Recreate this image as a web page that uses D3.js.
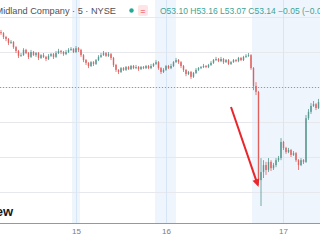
<!DOCTYPE html>
<html>
<head>
<meta charset="utf-8">
<script src="https://cdn.jsdelivr.net/npm/d3@7"></script>
<style>
  body { margin: 0; background: #fff; overflow: hidden; }
  svg { display: block; }
</style>
</head>
<body>
<div id="chart"></div>
<script>
// 5 minute bars, open = previous close
var firstOpen = 55.57;
var closes = [
  55.54, 55.43, 55.37, 55.26, 55.29, 55.14, 55.03, 54.89, 54.91, 55.06,
  54.97, 54.86, 55.00, 54.91, 54.97, 54.83, 54.91, 54.86, 54.80, 54.89,
  54.94, 54.86, 54.97, 55.03, 55.00, 54.94, 55.00, 55.06, 55.09, 55.00,
  55.11, 55.06, 54.91, 54.77, 54.69, 54.60, 54.71, 54.66, 54.77, 54.86,
  54.91, 54.97, 54.89, 54.94, 54.83, 54.63, 54.49, 54.43, 54.54, 54.49,
  54.57, 54.51, 54.60, 54.54, 54.57, 54.51, 54.57, 54.54, 54.60, 54.54,
  54.60, 54.66, 54.71, 54.54, 54.43, 54.49, 54.60, 54.54, 54.60, 54.71,
  54.77, 54.71, 54.60, 54.49, 54.37, 54.43, 54.29, 54.40, 54.49, 54.54,
  54.57, 54.60, 54.57, 54.63, 54.69, 54.77, 54.80, 54.74, 54.80, 54.71,
  54.77, 54.66, 54.71, 54.77, 54.74, 54.83, 54.77, 54.86, 54.89, 54.91,
  54.54, 54.03, 53.86, 51.34, 51.57, 51.77, 51.63, 51.86, 51.68, 51.77,
  51.91, 51.97, 52.43, 52.26, 52.14, 52.20, 52.06, 52.11, 51.91, 51.77,
  51.91, 51.86, 53.11, 53.29, 53.46, 53.51, 53.40, 53.57
];
var highs = [
  55.63, 55.57, 55.46, 55.40, 55.34, 55.31, 55.17, 55.06, 54.97, 55.11,
  55.09, 55.00, 55.06, 55.03, 55.00, 55.00, 54.94, 54.97, 54.89, 54.94,
  54.97, 54.97, 55.03, 55.09, 55.06, 55.03, 55.06, 55.11, 55.14, 55.11,
  55.17, 55.14, 55.09, 54.94, 54.80, 54.71, 54.74, 54.74, 54.80, 54.91,
  54.97, 55.03, 55.00, 55.00, 54.97, 54.86, 54.66, 54.51, 54.57, 54.57,
  54.60, 54.60, 54.63, 54.63, 54.63, 54.60, 54.60, 54.60, 54.63, 54.63,
  54.66, 54.69, 54.77, 54.74, 54.57, 54.54, 54.63, 54.63, 54.66, 54.74,
  54.83, 54.80, 54.74, 54.63, 54.51, 54.46, 54.46, 54.43, 54.54, 54.57,
  54.60, 54.66, 54.63, 54.66, 54.74, 54.80, 54.86, 54.83, 54.86, 54.83,
  54.80, 54.80, 54.74, 54.80, 54.80, 54.86, 54.86, 54.89, 54.94, 54.97,
  54.94, 54.57, 54.14, 53.89, 51.97, 51.91, 51.86, 51.97, 51.91, 51.83,
  51.97, 52.03, 52.54, 52.46, 52.29, 52.26, 52.23, 52.17, 52.14, 51.94,
  51.97, 51.94, 53.20, 53.37, 53.54, 53.60, 53.54, 53.66
];
var lows = [
  55.49, 55.37, 55.31, 55.20, 55.23, 55.09, 54.97, 54.83, 54.86, 54.89,
  54.94, 54.80, 54.83, 54.89, 54.86, 54.77, 54.80, 54.83, 54.74, 54.77,
  54.86, 54.80, 54.83, 54.94, 54.94, 54.89, 54.91, 54.97, 55.03, 54.97,
  54.97, 55.00, 54.86, 54.71, 54.63, 54.54, 54.57, 54.60, 54.63, 54.74,
  54.83, 54.89, 54.86, 54.86, 54.77, 54.57, 54.43, 54.37, 54.40, 54.46,
  54.46, 54.49, 54.49, 54.51, 54.51, 54.46, 54.49, 54.51, 54.51, 54.51,
  54.51, 54.57, 54.63, 54.49, 54.37, 54.40, 54.46, 54.51, 54.51, 54.57,
  54.69, 54.66, 54.54, 54.43, 54.31, 54.34, 54.23, 54.26, 54.37, 54.46,
  54.51, 54.54, 54.54, 54.54, 54.60, 54.66, 54.74, 54.71, 54.71, 54.66,
  54.69, 54.63, 54.63, 54.69, 54.71, 54.71, 54.74, 54.74, 54.83, 54.86,
  54.49, 53.91, 53.77, 51.20, 50.60, 51.40, 51.49, 51.57, 51.60, 51.63,
  51.71, 51.86, 51.91, 52.20, 52.09, 52.11, 52.00, 52.03, 51.86, 51.63,
  51.74, 51.80, 51.83, 53.06, 53.23, 53.43, 53.34, 53.37
];

// extended hours shading, in bar positions
var extStart = [28.4, 61.6, 100.4];
var extEnd = [31.6, 70.0, 130];
var dayIdx = [30, 66, 112.8];
var dayLabels = ["15", "16", "17"];
var prevClose = 54.00;

var title = "Archer-Daniels-Midland Company \u00b7 5 \u00b7 NYSE";
var ohlcText = "O53.10 H53.16 L53.07 C53.14 \u22120.05 (\u22120.09%)";

// arrow pointing at the drop
var arrowFrom = {i: 92, p: 53.43};
var arrowTo = {i: 103, p: 51.14};

var width = 320, height = 240, plotBottom = 223;

var bars = closes.map(function(c, i) {
  return {i: i, o: i === 0 ? firstOpen : closes[i - 1], h: highs[i], l: lows[i], c: c};
});

var xScale = d3.scaleLinear().domain([0, 127]).range([1, 318.5]);
var yScale = d3.scaleLinear().domain([50.143, 56.486]).range([222, 0]);

var svg = d3.select("#chart").append("svg")
    .attr("width", width)
    .attr("height", height)
    .style("font-family", "'Liberation Sans', Arial, sans-serif");

svg.append("rect")
    .attr("width", width)
    .attr("height", height)
    .attr("fill", "#ffffff");

// extended session bands
svg.selectAll(".band")
    .data(extStart)
  .enter().append("rect")
    .attr("class", "band")
    .attr("x", function(d) { return xScale(d); })
    .attr("width", function(d, i) { return xScale(extEnd[i]) - xScale(d); })
    .attr("y", 0)
    .attr("height", plotBottom)
    .attr("fill", "#eef5fd");

// horizontal grid
svg.selectAll(".hgrid")
    .data(yScale.ticks(6))
  .enter().append("line")
    .attr("class", "hgrid")
    .attr("x1", 0).attr("x2", width)
    .attr("y1", function(d) { return Math.round(yScale(d)) + 0.5; })
    .attr("y2", function(d) { return Math.round(yScale(d)) + 0.5; })
    .attr("stroke", "#e6e8ee")
    .attr("stroke-width", 1);

// day lines
svg.selectAll(".vgrid")
    .data(dayIdx)
  .enter().append("line")
    .attr("class", "vgrid")
    .attr("x1", function(d) { return Math.round(xScale(d)) + 0.5; })
    .attr("x2", function(d) { return Math.round(xScale(d)) + 0.5; })
    .attr("y1", 0).attr("y2", plotBottom)
    .attr("stroke", "#d6e6f7")
    .attr("stroke-width", 1);

// previous close dotted line
svg.append("line")
    .attr("x1", 0).attr("x2", width)
    .attr("y1", Math.round(yScale(prevClose)) + 0.5)
    .attr("y2", Math.round(yScale(prevClose)) + 0.5)
    .attr("stroke", "#9598a1")
    .attr("stroke-width", 1)
    .attr("stroke-dasharray", "1,2");

var upCol = "#56988f", downCol = "#e0605e";

var candle = svg.selectAll(".bar")
    .data(bars)
  .enter().append("g")
    .attr("class", "bar");

candle.append("line")
    .attr("x1", function(d) { return xScale(d.i); })
    .attr("x2", function(d) { return xScale(d.i); })
    .attr("y1", function(d) { return yScale(d.h); })
    .attr("y2", function(d) { return yScale(d.l); })
    .attr("stroke", function(d) { return d.c >= d.o ? upCol : downCol; })
    .attr("stroke-width", 0.8);

candle.append("rect")
    .attr("x", function(d) { return xScale(d.i) - 0.7; })
    .attr("width", 1.4)
    .attr("y", function(d) { return yScale(Math.max(d.o, d.c)); })
    .attr("height", function(d) { return Math.max(0.8, Math.abs(yScale(d.o) - yScale(d.c))); })
    .attr("fill", function(d) { return d.c >= d.o ? upCol : downCol; });

// arrow
var ax1 = xScale(arrowFrom.i), ay1 = yScale(arrowFrom.p),
    ax2 = xScale(arrowTo.i), ay2 = yScale(arrowTo.p);
var ang = Math.atan2(ay2 - ay1, ax2 - ax1);
svg.append("line")
    .attr("x1", ax1).attr("y1", ay1)
    .attr("x2", ax2 - 5 * Math.cos(ang)).attr("y2", ay2 - 5 * Math.sin(ang))
    .attr("stroke", "#e8262b")
    .attr("stroke-width", 2);
svg.append("path")
    .attr("d", d3.line()([
      [ax2, ay2],
      [ax2 - 8 * Math.cos(ang) + 3.5 * Math.sin(ang), ay2 - 8 * Math.sin(ang) - 3.5 * Math.cos(ang)],
      [ax2 - 8 * Math.cos(ang) - 3.5 * Math.sin(ang), ay2 - 8 * Math.sin(ang) + 3.5 * Math.cos(ang)]
    ]) + "Z")
    .attr("fill", "#e8262b");

// bottom axis
var xAxis = d3.axisBottom(xScale)
    .tickValues(dayIdx)
    .tickFormat(function(d, i) { return dayLabels[i]; })
    .tickSize(0)
    .tickPadding(5);
var axisG = svg.append("g")
    .attr("transform", "translate(0," + plotBottom + ")")
    .call(xAxis);
axisG.select(".domain").attr("stroke", "#9598a1").attr("d", "M0,0.5H" + width);
axisG.selectAll("text")
    .attr("fill", "#787b86")
    .style("font-size", "8px")
    .style("font-family", "'Liberation Sans', Arial, sans-serif");

// header
svg.append("text")
    .attr("x", 116).attr("y", 14)
    .attr("text-anchor", "end")
    .attr("fill", "#4f4f55")
    .style("font-size", "9.2px")
    .text(title);

svg.append("circle")
    .attr("cx", 131.5).attr("cy", 10.5).attr("r", 2.2)
    .attr("fill", "#22ab94");

svg.append("rect")
    .attr("x", 138).attr("y", 5).attr("width", 10).attr("height", 11).attr("rx", 2)
    .attr("fill", "#fde4e7");
svg.append("text")
    .attr("x", 143).attr("y", 13.5)
    .attr("text-anchor", "middle")
    .attr("fill", "#f23645")
    .style("font-size", "9px")
    .text("=");

svg.append("text")
    .attr("x", 160).attr("y", 14)
    .attr("fill", "#3fa393")
    .style("font-size", "8.5px")
    .text(ohlcText);

// watermark
svg.append("text")
    .attr("x", 13).attr("y", 216)
    .attr("text-anchor", "end")
    .attr("fill", "#131722")
    .style("font-size", "13px")
    .style("font-weight", "bold")
    .text("TradingView");
</script>
</body>
</html>
